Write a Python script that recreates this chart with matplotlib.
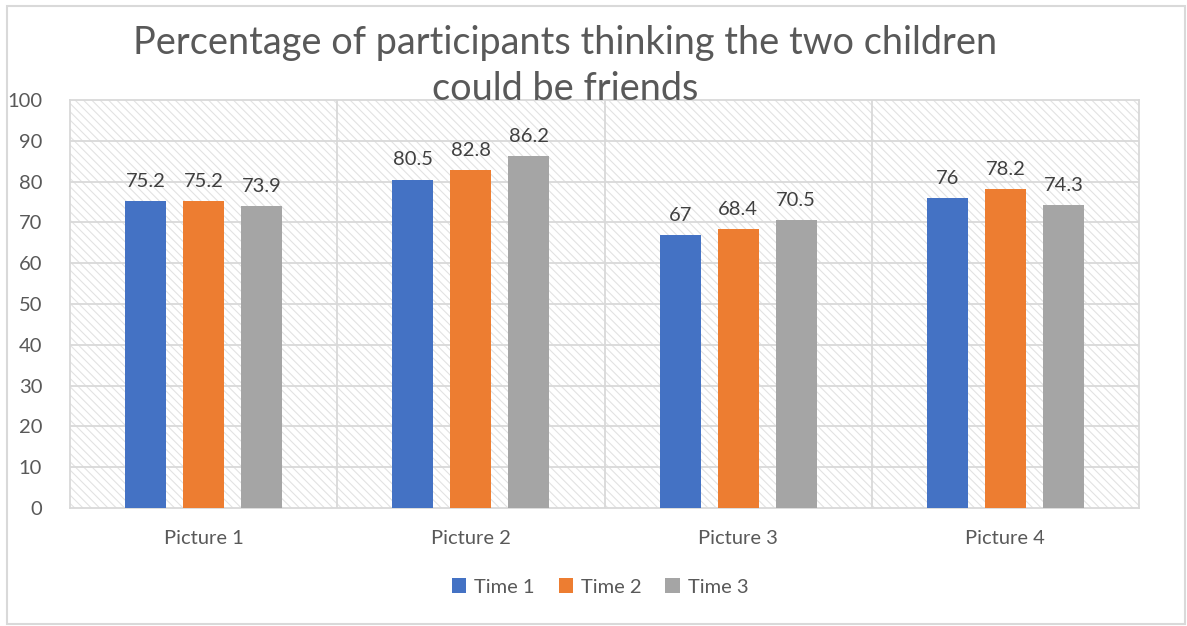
import matplotlib.pyplot as plt
from matplotlib.patches import Rectangle
import numpy as np

# Chart data
pictures = ["Picture 1", "Picture 2", "Picture 3", "Picture 4"]
times = ["Time 1", "Time 2", "Time 3"]
time1 = [75.2, 80.5, 67, 76]
time2 = [75.2, 82.8, 68.4, 78.2]
time3 = [73.9, 86.2, 70.5, 74.3]
colors = ["#4472C4", "#ED7D31", "#A5A5A5"]

plt.rcParams["font.family"] = ["Lato", "DejaVu Sans"]
plt.rcParams["hatch.linewidth"] = 0.8

grid_col = "#d9d9d9"
text_col = "#595959"

fig = plt.figure(figsize=(11.87, 6.26), dpi=100)
ax = fig.add_axes([70 / 1187, 1 - 508 / 626, 1069 / 1187, 408 / 626])

# hatched plot background
bg = Rectangle((0, 0), 1, 1, transform=ax.transAxes, facecolor="white",
               edgecolor="#e2e2e2", hatch="\\\\\\\\", linewidth=0, zorder=0)
ax.add_patch(bg)

x = np.arange(len(pictures))
width = 0.153
step = 0.217
for i, (vals, col) in enumerate(zip([time1, time2, time3], colors)):
    bars = ax.bar(x + (i - 1) * step, vals, width, color=col, label=times[i], zorder=3)
    for b, v in zip(bars, vals):
        ax.annotate(f"{v:g}", (b.get_x() + b.get_width() / 2, v),
                    xytext=(0, 8), textcoords="offset points",
                    ha="center", va="bottom", fontsize=14.5, color="#404040", zorder=4)

ax.set_xlim(-0.5, 3.5)
ax.set_ylim(0, 100)
ax.set_yticks(range(0, 101, 10))
ax.set_xticks(x)
ax.set_xticklabels(pictures)

# grid lines
for y in range(10, 100, 10):
    ax.axhline(y, color=grid_col, lw=1.3, zorder=1)
for xv in [0.5, 1.5, 2.5]:
    ax.axvline(xv, color=grid_col, lw=1.3, zorder=1)
for s in ax.spines.values():
    s.set_color(grid_col)
    s.set_linewidth(1.3)

ax.tick_params(axis="both", length=0, labelsize=14.5, colors=text_col)
ax.tick_params(axis="y", pad=20)
ax.tick_params(axis="x", pad=16)

fig.text(565 / 1187, 1 - 66 / 626, "Percentage of participants thinking the two children\ncould be friends",
         ha="center", va="center", fontsize=27.3, color=text_col, linespacing=1.35)

fig.legend(loc="center", bbox_to_anchor=(600 / 1187, 1 - 587 / 626), ncol=3,
           frameon=False, fontsize=14.5, labelcolor=text_col, handlelength=0.7,
           handleheight=0.7, columnspacing=1.2, handletextpad=0.4)

# outer chart border
fig.patches.append(Rectangle((7 / 1187, 2 / 626), 1178 / 1187, 618 / 626,
                             transform=fig.transFigure, fill=False,
                             edgecolor=grid_col, linewidth=1.5))

fig.savefig("out.png", dpi=100)
